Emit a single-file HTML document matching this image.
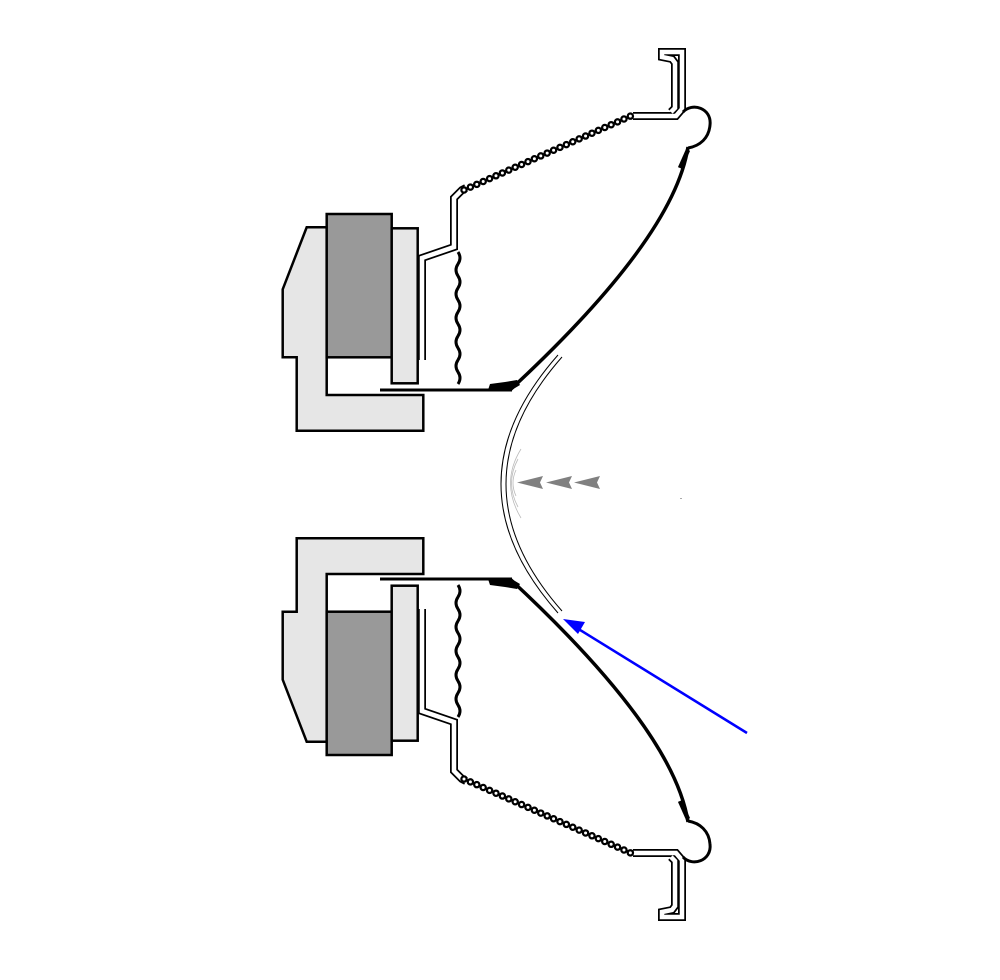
<!DOCTYPE html>
<html><head><meta charset="utf-8"><style>html,body{margin:0;padding:0;background:#fff}svg{display:block}</style></head>
<body>
<svg width="1000" height="980" viewBox="0 0 1000 980" xmlns="http://www.w3.org/2000/svg">
<defs>
<g id="half">
  <path d="M306.7,227.3 L326.7,227.3 L326.7,395 L423.3,395 L423.3,430.7 L296.7,430.7 L296.7,357.3 L282.7,357.3 L282.7,289.3 Z" fill="#e6e6e6" stroke="#000" stroke-width="2.5"/>
  <rect x="326.7" y="214" width="65" height="143.3" fill="#999" stroke="#000" stroke-width="2.5"/>
  <rect x="391.7" y="228.3" width="26" height="155" fill="#e6e6e6" stroke="#000" stroke-width="2.5"/>
  <g fill="none" stroke-linejoin="miter">
    <path d="M422,360 L422,258 L454,247 L454,198 L462,190 L466,188 M633,116 L676,116 L682,109 L682,52 L662,52 L662,57 L672,59 L675,63 L675,108 L671,112" stroke="#000" stroke-width="8"/>
    <path d="M422,360 L422,258 L454,247 L454,198 L462,190 L466,188 M633,116 L676,116 L682,109 L682,52 L662,52 L662,57 L672,59 L675,63 L675,108 L671,112" stroke="#fff" stroke-width="4.5"/>
  </g>
  <path d="M464,190 L633,115" stroke="#000" stroke-width="7.5" fill="none" stroke-dasharray="0,7" stroke-linecap="round"/>
  <path d="M464,190 L633,115" stroke="#fff" stroke-width="3" fill="none" stroke-dasharray="0,7" stroke-linecap="round"/>
  <path d="M683,112 C692,102 712,108 710,125 C709,138 700,146 688,148" fill="none" stroke="#000" stroke-width="3"/>
  <path d="M510,390 Q674,238 688,147" fill="none" stroke="#000" stroke-width="3.5"/>
  <path d="M680,168 L688,150" stroke="#000" stroke-width="4.5"/>
  <line x1="380" y1="390" x2="512" y2="390" stroke="#000" stroke-width="3"/>
  <path d="M488,390 L490,384 L505,382 L517,380 L520,385 L510,391 Z" fill="#000"/>
  <path d="M458,252 q4,6 0,12 q-4,6 0,12 q4,6 0,12 q-4,6 0,12 q4,6 0,12 q-4,6 0,12 q4,6 0,12 q-4,6 0,12 q4,6 0,12 q-4,6 0,12 q4,6 0,12" fill="none" stroke="#000" stroke-width="3"/>
</g>
</defs>
<use href="#half"/>
<use href="#half" transform="translate(0,969) scale(1,-1)"/>
<path d="M558,355 Q444,484 558,613" fill="none" stroke="#000" stroke-width="1"/>
<path d="M562,357 Q450,484 562,611" fill="none" stroke="#000" stroke-width="1"/>
<g fill="none" stroke="#bbb" stroke-width="0.8">
<path d="M521,449 Q500,483 521,518"/>
<path d="M518,459 Q505,483 518,507"/>
<path d="M516,470 Q510,483 516,496"/>
</g>
<g fill="#808080">
<path d="M517,482.5 L543,476 L540,482.5 L543,489 Z"/>
<path d="M546,482.5 L572,476 L569,482.5 L572,489 Z"/>
<path d="M574,482.5 L600,476 L597,482.5 L600,489 Z"/>
</g>
<rect x="680" y="498" width="2" height="1" fill="#aaa"/>
<line x1="747" y1="733" x2="572" y2="625" stroke="#0000ff" stroke-width="2.5"/>
<path d="M563,619 L585,622 L578,634 Z" fill="#0000ff"/>
</svg>
</body></html>
